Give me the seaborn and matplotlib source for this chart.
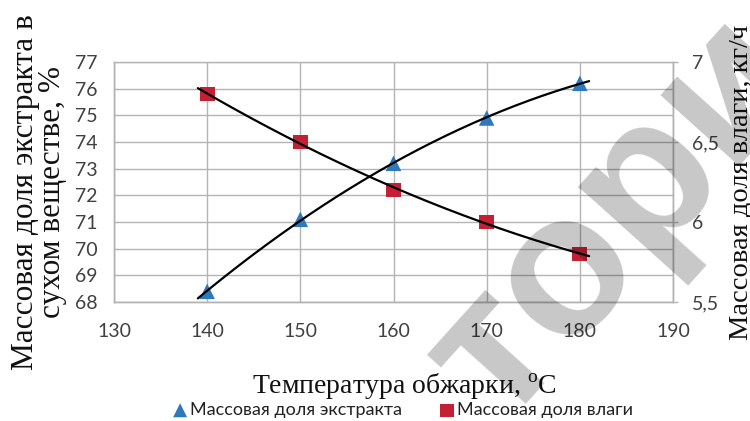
import numpy as np
import pandas as pd
import matplotlib
matplotlib.use("Agg")
import matplotlib.pyplot as plt
import seaborn as sns

# Roasting temperature vs. extract share and moisture share
temperature = [140, 150, 160, 170, 180]
extract_share = [68.4, 71.1, 73.2, 74.9, 76.2]      # % of dry matter (left axis)
moisture_share = [6.8, 6.5, 6.2, 6.0, 5.8]          # kg/h (right axis)

x_ticks = [130, 140, 150, 160, 170, 180, 190]
left_ticks = [68, 69, 70, 71, 72, 73, 74, 75, 76, 77]
right_ticks = [5.5, 6.0, 6.5, 7.0]
right_tick_labels = ["5,5", "6", "6,5", "7"]

label_extract = "Массовая доля экстракта"
label_moisture = "Массовая доля влаги"
xlabel = r"Температура обжарки, $^{\mathrm{o}}$C"
ylabel_left = "Массовая доля экстракта в\nсухом веществе, %"
ylabel_right = "Массовая доля влаги, кг/ч"
watermark = "тори"

sns.set_theme(style="white")
plt.rcParams["font.family"] = ["Lato", "DejaVu Sans"]
plt.rcParams["mathtext.fontset"] = "custom"
plt.rcParams["mathtext.rm"] = "Liberation Serif"

df = pd.DataFrame({"t": temperature, "extract": extract_share, "moisture": moisture_share})

W, H = 750, 421
fig = plt.figure(figsize=(W / 100, H / 100), dpi=100)
fig.patch.set_facecolor("white")

L, R, T, B = 114, 673, 62, 302
ax = fig.add_axes([L / W, (H - B) / H, (R - L) / W, (B - T) / H])
ax2 = ax.twinx()
for a in (ax, ax2):
    a.patch.set_visible(False)

grid_c = "#b4b4b4"
blue = "#2E78BE"
red = "#C42034"

# Quadratic trend lines, extended one degree on each side
tx = np.linspace(139, 181, 200)
ext_fit = np.polyval(np.polyfit(temperature, extract_share, 2), tx)
moi_fit = np.polyval(np.polyfit(temperature, moisture_share, 2), tx)
sns.lineplot(x=tx, y=ext_fit, ax=ax, color="black", linewidth=1.6, zorder=4)
sns.lineplot(x=tx, y=moi_fit, ax=ax2, color="black", linewidth=1.6, zorder=4)

sns.scatterplot(data=df, x="t", y="extract", ax=ax, marker="^", s=125,
                color=blue, edgecolor="none", zorder=3, label=label_extract)
sns.scatterplot(data=df, x="t", y="moisture", ax=ax2, marker="s", s=115,
                color=red, edgecolor="none", zorder=3, label=label_moisture)

ax.set_xlim(130, 190)
ax.set_ylim(68, 77)
ax2.set_ylim(5.5, 7.0)
ax.set_xticks(x_ticks)
ax.set_yticks(left_ticks)
ax2.set_yticks(right_ticks)
ax2.set_yticklabels(right_tick_labels)

ax.grid(True, color=grid_c, linewidth=1.0)
ax.set_axisbelow(True)
for a in (ax, ax2):
    for side, sp in a.spines.items():
        sp.set_color(grid_c)
        sp.set_linewidth(1.0)
    a.set_xlabel("")
    a.set_ylabel("")
    lg = a.get_legend()
    if lg is not None:
        lg.remove()
ax2.spines["top"].set_visible(False)

tick_c = "#404040"
ax.tick_params(axis="x", length=0, pad=15, labelsize=14, labelcolor=tick_c)
ax.tick_params(axis="y", length=0, pad=12, labelsize=14, labelcolor=tick_c)
ax2.tick_params(axis="y", direction="out", length=3.6, width=1.0, color=grid_c,
                pad=10, labelsize=14, labelcolor=tick_c)

serif = ["Liberation Serif", "DejaVu Serif"]
fig.text(404 / W, 1 - 387 / H, xlabel, ha="center", va="center",
         fontsize=20, family=serif, color="#111111")
fig.text(39 / W, 1 - 192 / H, ylabel_left, ha="center", va="center",
         rotation=90, multialignment="center", fontsize=22.5, family=serif,
         color="#111111", linespacing=0.9)
fig.text(741 / W, 1 - 182 / H, ylabel_right, ha="center", va="center",
         rotation=90, fontsize=20.5, family=serif, color="#111111")

h1, l1 = ax.get_legend_handles_labels()
h2, l2 = ax2.get_legend_handles_labels()
pairs = [(h, l) for h, l in zip(h1 + h2, l1 + l2) if h.__class__.__name__ == "PathCollection"]
fig.legend([p[0] for p in pairs], [p[1] for p in pairs], loc="center",
           bbox_to_anchor=(403 / W, 1 - 410 / H), ncol=2, frameon=False,
           fontsize=13, handlelength=0.8, handletextpad=0.15, columnspacing=2.1,
           markerscale=0.9, borderpad=0, labelcolor="#222222")

# Diagonal watermark drawn over the chart
fig.text(618 / W, 1 - 218 / H, watermark, ha="center", va="center",
         rotation=48, fontsize=145, fontweight="bold",
         family=["Liberation Sans", "DejaVu Sans"], color="black",
         alpha=0.22, zorder=10)

fig.savefig("out.png", dpi=100)
